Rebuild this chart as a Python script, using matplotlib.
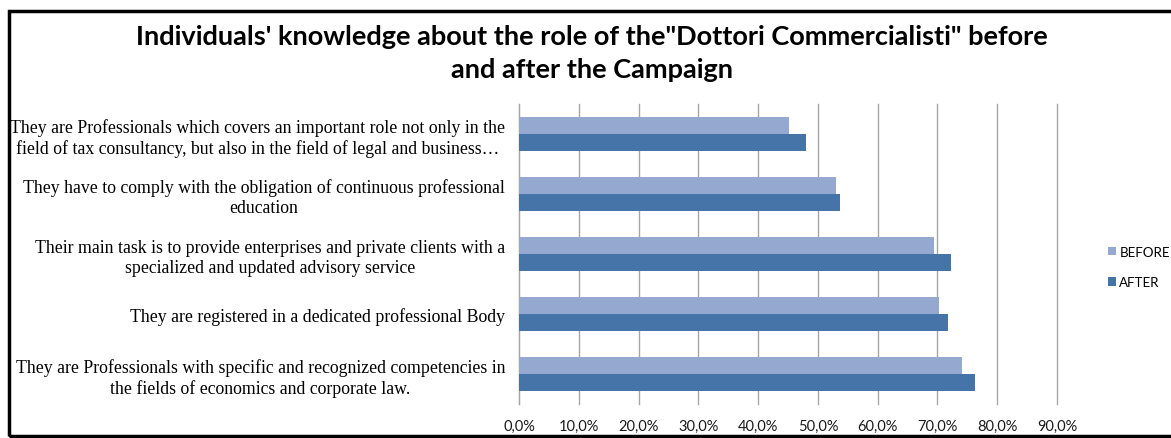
import numpy as np
import matplotlib.pyplot as plt
from matplotlib.patches import Rectangle
from matplotlib.ticker import FuncFormatter

# survey items, listed bottom to top as they appear on the axis
statements = [
    "They are Professionals with specific and recognized competencies in\nthe fields of economics and corporate law.",
    "They are registered in a dedicated professional Body",
    "Their main task is to provide enterprises and private clients with a\nspecialized and updated advisory service",
    "They have to comply with the obligation of continuous professional\neducation",
    "They are Professionals which covers an important role not only in the\nfield of tax consultancy, but also in the field of legal and business\u2026",
]
before = [74.1, 70.2, 69.4, 53.0, 45.2]
after = [76.3, 71.8, 72.2, 53.7, 48.0]

c_before = "#95a9d0"
c_after = "#4674a8"

W, H = 1171, 439
fig = plt.figure(figsize=(W / 100, H / 100), dpi=100)
ax = fig.add_axes([519 / W, 1 - 405 / H, 538 / W, 300 / H])

y = np.arange(len(statements))
h = 0.285
ax.barh(y + h / 2, before, height=h, color=c_before, label="BEFORE", zorder=3)
ax.barh(y - h / 2, after, height=h, color=c_after, label="AFTER", zorder=3)

ax.set_xlim(0, 90)
ax.set_ylim(-0.5, len(statements) - 0.5)
ax.set_xticks(np.arange(0, 91, 10))
ax.xaxis.set_major_formatter(FuncFormatter(lambda v, p: f"{v:.1f}%".replace(".", ",")))
ax.tick_params(axis="x", length=0, pad=11, labelsize=10.5)
for lab in ax.get_xticklabels():
    lab.set_fontfamily("Lato")
    lab.set_color("#1a1a1a")

ax.set_yticks(y)
ax.set_yticklabels(statements, fontsize=12.8, family="Liberation Serif", multialignment="center")
ax.tick_params(axis="y", length=0, pad=10)

# vertical gridlines, the last one sits on the axes edge so don't clip it
ax.grid(axis="x", color="#a6a6a6", linewidth=1, zorder=0)
for gl in ax.get_xgridlines():
    gl.set_clip_on(False)
for s in ["top", "right", "bottom"]:
    ax.spines[s].set_visible(False)
ax.spines["left"].set_color("#a6a6a6")

fig.legend(loc="center left", bbox_to_anchor=(1108 / W, 1 - 268 / H),
           frameon=False, borderpad=0, borderaxespad=0,
           handlelength=0.6, handleheight=0.6, handletextpad=0.25,
           labelspacing=1.4, prop={"family": "Lato", "size": 9.6})

fig.text(592 / W, 1 - 37 / H, "Individuals' knowledge about the role of the\"Dottori Commercialisti\" before",
         ha="center", va="center", fontsize=19.5, fontweight="bold", family="Lato")
fig.text(592 / W, 1 - 70 / H, "and after the Campaign",
         ha="center", va="center", fontsize=19.5, fontweight="bold", family="Lato")

# outer frame, right edge runs past the canvas
fig.patches.append(Rectangle((8.5 / W, 2 / H), 1.1, 1 - 13.5 / H, transform=fig.transFigure,
                             fill=False, edgecolor="black", linewidth=2.5))

fig.savefig("out.png", dpi=100)
